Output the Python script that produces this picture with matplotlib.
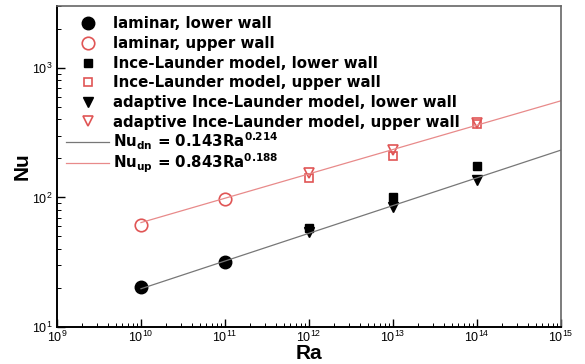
import numpy as np
import matplotlib
matplotlib.use("Agg")
import matplotlib.pyplot as plt

plt.rcParams["font.family"] = ["Liberation Sans", "DejaVu Sans"]
plt.rcParams["mathtext.fontset"] = "custom"
plt.rcParams["mathtext.rm"] = "DejaVu Sans:bold"
plt.rcParams["mathtext.default"] = "regular"

# data
ra_lam = [1e10, 1e11]
nu_lam_lower = [20.4, 31.8]
nu_lam_upper = [61.5, 97.5]

ra_turb = [1e12, 1e13, 1e14]
nu_il_lower = [58, 101, 175]
nu_il_upper = [141, 209, 370]
nu_ail_lower = [54, 85, 136]
nu_ail_upper = [154, 233, 378]

# correlations
c_dn, e_dn = 0.143, 0.214
c_up, e_up = 0.843, 0.188
ra_fit = np.array([1e10, 1e15])

red = "#e05555"
red_line = "#e88a8a"

fig = plt.figure(figsize=(5.85, 3.64), dpi=100)
ax = fig.add_axes([0.0974, 0.1016, 0.8616, 0.8819])

pts = []
pts += ax.plot(ra_lam, nu_lam_lower, "o", color="black", ms=9,
               label="laminar, lower wall")
pts += ax.plot(ra_lam, nu_lam_upper, "o", mfc="none", mec=red, mew=1.2, ms=9,
               label="laminar, upper wall")
pts += ax.plot(ra_turb, nu_il_lower, "s", color="black", ms=5.5,
               label="Ince-Launder model, lower wall")
pts += ax.plot(ra_turb, nu_il_upper, "s", mfc="none", mec=red, mew=1.2, ms=6,
               label="Ince-Launder model, upper wall")
pts += ax.plot(ra_turb, nu_ail_lower, "v", color="black", ms=7,
               label="adaptive Ince-Launder model, lower wall")
pts += ax.plot(ra_turb, nu_ail_upper, "v", mfc="none", mec=red, mew=1.2, ms=7.5,
               label="adaptive Ince-Launder model, upper wall")
fits = []
fits += ax.plot(ra_fit, c_dn * ra_fit ** e_dn, "-", color="#777777", lw=0.9,
                label=r"Nu$_{dn}$ = 0.143Ra$^{0.214}$")
fits += ax.plot(ra_fit, c_up * ra_fit ** e_up, "-", color=red_line, lw=0.9,
                label=r"Nu$_{up}$ = 0.843Ra$^{0.188}$")

ax.set_xscale("log")
ax.set_yscale("log")
ax.set_xlim(1e9, 1e15)
ax.set_ylim(10, 3000)
ax.set_xticks([10.0 ** k for k in range(9, 16)])
ax.set_xticklabels([r"$10^{%d}$" % k for k in range(9, 16)])
ax.set_yticks([10, 100, 1000])
ax.set_yticklabels([r"$10^{1}$", r"$10^{2}$", r"$10^{3}$"])
ax.tick_params(which="both", direction="in", top=False, right=False,
               labelsize=9, colors="black")
ax.tick_params(which="major", length=6, width=1)
ax.tick_params(which="minor", length=3, width=0.7)
ax.tick_params(axis="x", pad=2)
for lbl in ax.get_xticklabels() + ax.get_yticklabels():
    lbl.set_fontfamily("Liberation Sans")

for side in ["left", "bottom"]:
    ax.spines[side].set_linewidth(1.4)
for side in ["top", "right"]:
    ax.spines[side].set_color("#666666")
    ax.spines[side].set_linewidth(1.2)

ax.set_xlabel("Ra", fontsize=15, fontweight="bold", labelpad=-1)
ax.set_ylabel("Nu", fontsize=15, fontweight="bold", labelpad=0)

legfont = {"family": "DejaVu Sans", "size": 10.8, "weight": "bold"}
leg1 = ax.legend(handles=pts, loc="center left", bbox_to_anchor=(0.0, 0.791),
                 frameon=False, prop=legfont, handlelength=2.9,
                 handletextpad=0.25, labelspacing=0.31, borderaxespad=0.2)
ax.add_artist(leg1)
ax.legend(handles=fits, loc="center left", bbox_to_anchor=(0.0, 0.542),
          frameon=False, prop=legfont, handlelength=2.9,
          handletextpad=0.25, labelspacing=-0.03, borderaxespad=0.2)

fig.savefig("out.png", dpi=100)
